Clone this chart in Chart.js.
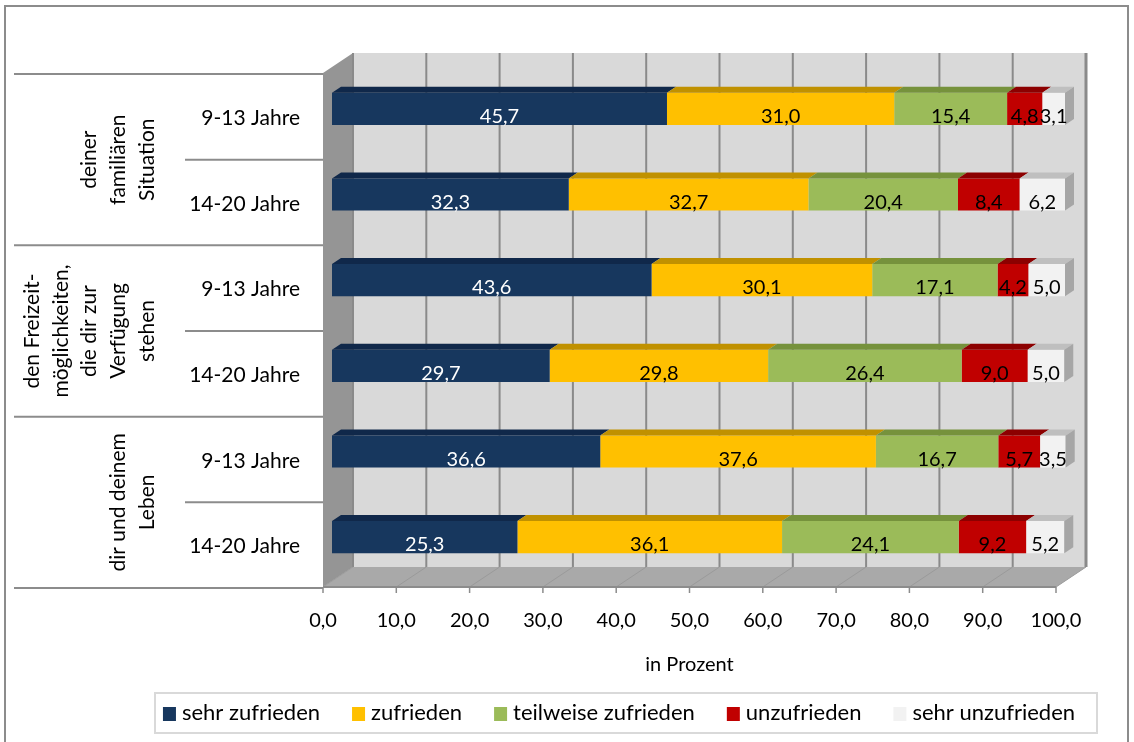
<!DOCTYPE html>
<html lang="de">
<head>
<meta charset="utf-8">
<title>Zufriedenheit nach Altersgruppen</title>
<script src="https://cdn.jsdelivr.net/npm/chart.js@4.4.1/dist/chart.umd.min.js"></script>
<style>
  html, body { margin: 0; padding: 0; background: #fff; }
  canvas { display: block; }
</style>
</head>
<body>
<canvas id="chart" width="1134" height="742"></canvas>
<script>
// --- data ---
const rowLabels = ['9-13 Jahre', '14-20 Jahre', '9-13 Jahre', '14-20 Jahre', '9-13 Jahre', '14-20 Jahre'];
const groupLabels = [
    ['deiner', 'familiären', 'Situation'],
    ['den Freizeit-', 'möglichkeiten,', 'die dir zur', 'Verfügung', 'stehen'],
    ['dir und deinem', 'Leben']
];
const seriesNames = ['sehr zufrieden', 'zufrieden', 'teilweise zufrieden', 'unzufrieden', 'sehr unzufrieden'];
const sehrZufrieden = [45.7, 32.3, 43.6, 29.7, 36.6, 25.3];
const zufrieden = [31.0, 32.7, 30.1, 29.8, 37.6, 36.1];
const teilweiseZufrieden = [15.4, 20.4, 17.1, 26.4, 16.7, 24.1];
const unzufrieden = [4.8, 8.4, 4.2, 9.0, 5.7, 9.2];
const sehrUnzufrieden = [3.1, 6.2, 5.0, 5.0, 3.5, 5.2];
const xTicks = [0, 10, 20, 30, 40, 50, 60, 70, 80, 90, 100];
const axisTitle = 'in Prozent';

// --- styles ---
const FONT = 'Lato, "Open Sans", sans-serif';
const frontColors = ['#17375e', '#ffc000', '#9bbb59', '#c00000', '#f2f2f2'];
const topColors = ['#10284a', '#c09100', '#76923c', '#8c0000', '#bfbfbf'];
const labelColors = ['#ffffff', '#000000', '#000000', '#000000', '#000000'];
const FRONT = { dx: -9, dy: 7 };     // front plane relative to bars
const BACK = { dx: 21, dy: -13 };    // back wall relative to bars
const BAR_DEPTH = { dx: 9, dy: -6 };

const fmt = v => v.toFixed(1).replace('.', ',');

function poly(ctx, pts, fill) {
    ctx.beginPath();
    ctx.moveTo(pts[0][0], pts[0][1]);
    pts.slice(1).forEach(p => ctx.lineTo(p[0], p[1]));
    ctx.closePath();
    ctx.fillStyle = fill;
    ctx.fill();
}

function line(ctx, x1, y1, x2, y2, color, width) {
    ctx.beginPath();
    ctx.moveTo(x1, y1);
    ctx.lineTo(x2, y2);
    ctx.strokeStyle = color;
    ctx.lineWidth = width;
    ctx.stroke();
}

const depthPlugin = {
    id: 'depth',
    beforeDatasetsDraw(chart) {
        const { ctx, chartArea: a, scales: { x } } = chart;
        const w = a.right - a.left;
        const h = a.bottom - a.top;
        ctx.save();
        // back wall
        ctx.fillStyle = '#d9d9d9';
        ctx.fillRect(a.left + BACK.dx, a.top + BACK.dy, w, h);
        // side wall
        poly(ctx, [
            [a.left + FRONT.dx, a.top + FRONT.dy],
            [a.left + BACK.dx, a.top + BACK.dy],
            [a.left + BACK.dx, a.bottom + BACK.dy],
            [a.left + FRONT.dx, a.bottom + FRONT.dy]
        ], '#959595');
        // floor
        poly(ctx, [
            [a.left + FRONT.dx, a.bottom + FRONT.dy],
            [a.left + BACK.dx, a.bottom + BACK.dy],
            [a.right + BACK.dx, a.bottom + BACK.dy],
            [a.right + FRONT.dx, a.bottom + FRONT.dy]
        ], '#a9a9a9');
        // grid lines on wall and floor
        xTicks.forEach(v => {
            const px = x.getPixelForValue(v);
            line(ctx, px + BACK.dx, a.top + BACK.dy, px + BACK.dx, a.bottom + BACK.dy, '#8a8a8a', v === 100 ? 3 : 2);
            line(ctx, px + BACK.dx, a.bottom + BACK.dy, px + FRONT.dx, a.bottom + FRONT.dy, '#9a9a9a', 1);
        });
        // front axis line + ticks
        const fy = a.bottom + FRONT.dy;
        line(ctx, a.left + FRONT.dx, fy, a.right + FRONT.dx, fy, '#8c8c8c', 2);
        xTicks.forEach(v => {
            const px = x.getPixelForValue(v) + FRONT.dx;
            line(ctx, px, fy, px, fy + 6, '#8c8c8c', 1.5);
        });
        ctx.restore();
    },
    afterDatasetsDraw(chart) {
        const { ctx } = chart;
        const last = chart.data.datasets.length - 1;
        ctx.save();
        // top faces and end caps
        chart.data.datasets.forEach((ds, di) => {
            chart.getDatasetMeta(di).data.forEach(el => {
                const { x, y, base, height } = el.getProps(['x', 'y', 'base', 'height'], true);
                const top = y - height / 2;
                const bottom = y + height / 2;
                poly(ctx, [
                    [base, top], [x, top],
                    [x + BAR_DEPTH.dx, top + BAR_DEPTH.dy], [base + BAR_DEPTH.dx, top + BAR_DEPTH.dy]
                ], topColors[di]);
                if (di === last) {
                    poly(ctx, [
                        [x, top], [x + BAR_DEPTH.dx, top + BAR_DEPTH.dy],
                        [x + BAR_DEPTH.dx, bottom + BAR_DEPTH.dy], [x, bottom]
                    ], '#a6a6a6');
                }
            });
        });
        // value labels
        ctx.font = '20px ' + FONT;
        ctx.textAlign = 'center';
        ctx.textBaseline = 'alphabetic';
        chart.data.datasets.forEach((ds, di) => {
            chart.getDatasetMeta(di).data.forEach((el, i) => {
                const { x, y, base } = el.getProps(['x', 'y', 'base'], true);
                ctx.fillStyle = labelColors[di];
                ctx.fillText(fmt(ds.data[i]), (x + base) / 2, y + 14);
            });
        });
        ctx.restore();
    },
    afterDraw(chart) {
        const { ctx, chartArea: a, scales: { x, y } } = chart;
        const band = (a.bottom - a.top) / rowLabels.length;
        const edge = a.left + FRONT.dx;
        ctx.save();
        // outer frame
        ctx.strokeStyle = '#8c8c8c';
        ctx.lineWidth = 2;
        ctx.strokeRect(5, 6, 1123, 800);

        // category dividers
        for (let i = 0; i <= rowLabels.length; i++) {
            const py = a.top + i * band + 8;
            line(ctx, i % 2 === 0 ? 14 : 185, py, edge, py, '#8c8c8c', 2);
        }
        // row labels
        ctx.fillStyle = '#000';
        ctx.font = '21px ' + FONT;
        ctx.textAlign = 'right';
        ctx.textBaseline = 'alphabetic';
        rowLabels.forEach((lab, i) => {
            ctx.fillText(lab, 300, y.getPixelForValue(i) + 16);
        });
        // group labels (rotated)
        ctx.textAlign = 'center';
        ctx.textBaseline = 'middle';
        groupLabels.forEach((lines, g) => {
            const cy = a.top + (2 * g + 1) * band + 8;
            lines.forEach((txt, li) => {
                const cx = 147 - (lines.length - 1 - li) * 28.7;
                ctx.save();
                ctx.translate(cx, cy);
                ctx.rotate(-Math.PI / 2);
                ctx.fillText(txt, 0, 0);
                ctx.restore();
            });
        });
        // x tick labels
        ctx.textBaseline = 'alphabetic';
        ctx.font = '20px ' + FONT;
        xTicks.forEach(v => {
            ctx.fillText(fmt(v), x.getPixelForValue(v) + FRONT.dx, 627);
        });
        // axis title
        ctx.fillText(axisTitle, (a.left + a.right) / 2 + FRONT.dx, 671);

        // legend
        ctx.strokeStyle = '#d9d9d9';
        ctx.lineWidth = 2;
        ctx.strokeRect(155, 693, 942, 40);
        ctx.font = '22px ' + FONT;
        ctx.textAlign = 'left';
        const box = 13, gapText = 6, gapItem = 32;
        const widths = chart.data.datasets.map(ds => box + gapText + ctx.measureText(ds.label).width);
        const total = widths.reduce((s, w) => s + w, 0) + gapItem * (widths.length - 1);
        let lx = 619 - total / 2;
        chart.data.datasets.forEach((ds, di) => {
            ctx.fillStyle = frontColors[di];
            ctx.fillRect(lx, 707, box, 14);
            ctx.fillStyle = '#000';
            ctx.fillText(ds.label, lx + box + gapText, 720);
            lx += widths[di] + gapItem;
        });
        ctx.restore();
    }
};

const seriesValues = [sehrZufrieden, zufrieden, teilweiseZufrieden, unzufrieden, sehrUnzufrieden];

new Chart(document.getElementById('chart'), {
    type: 'bar',
    data: {
        labels: rowLabels,
        datasets: seriesNames.map((name, i) => ({
            label: name,
            data: seriesValues[i],
            backgroundColor: frontColors[i],
            borderWidth: 0,
            barPercentage: 0.375,
            categoryPercentage: 1
        }))
    },
    options: {
        indexAxis: 'y',
        responsive: false,
        devicePixelRatio: 1,
        animation: false,
        layout: { padding: { left: 332, right: 69, top: 66, bottom: 162 } },
        scales: {
            x: { type: 'linear', stacked: true, min: 0, max: 100, display: false },
            y: { stacked: true, display: false }
        },
        plugins: {
            legend: { display: false },
            tooltip: { enabled: false }
        }
    },
    plugins: [depthPlugin]
});
</script>
</body>
</html>
